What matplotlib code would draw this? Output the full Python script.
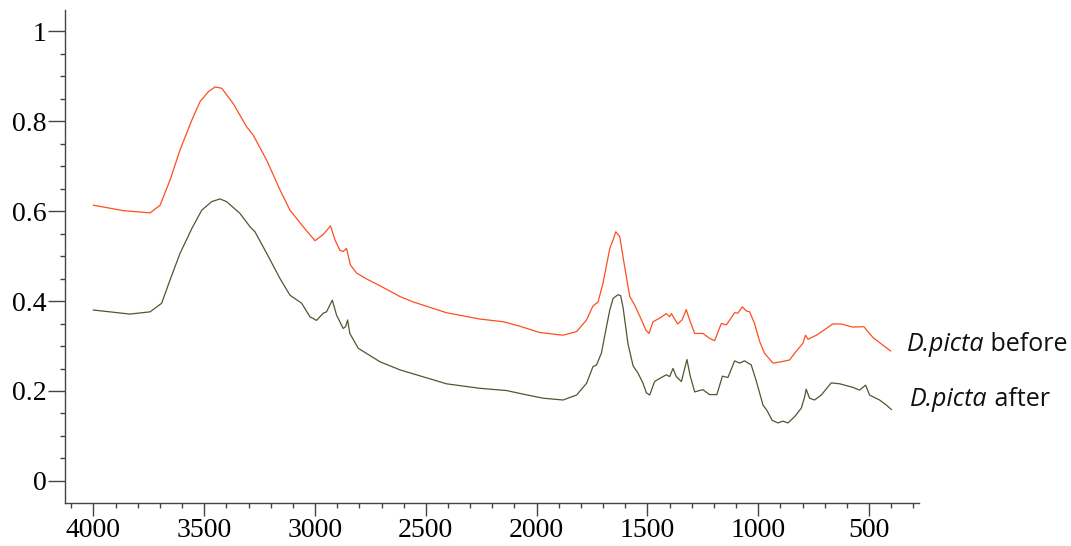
import numpy as np
import matplotlib
matplotlib.use('Agg')
import matplotlib.pyplot as plt
from matplotlib.ticker import MultipleLocator, FixedLocator

# FTIR spectra (wavenumber, cm-1 ; absorbance)
wn_before = [4000, 3865, 3744, 3699, 3654, 3609, 3556, 3519, 3482, 3451, 3421, 3369,
             3308, 3279, 3218, 3158, 3113, 3053, 3000, 2963, 2930, 2910, 2888, 2873,
             2858, 2840, 2812, 2767, 2707, 2617, 2557, 2407, 2257, 2151, 2076, 1986,
             1881, 1820, 1775, 1746, 1723, 1701, 1670, 1655, 1643, 1625, 1603, 1580,
             1558, 1527, 1508, 1493, 1475, 1445, 1415, 1400, 1392, 1364, 1344, 1325,
             1310, 1287, 1250, 1220, 1197, 1167, 1144, 1107, 1092, 1072, 1054, 1039,
             1017, 994, 972, 934, 896, 859, 836, 799, 787, 776, 738, 693, 664, 626,
             573, 524, 483, 438, 403]
abs_before = [0.613, 0.601, 0.596, 0.613, 0.669, 0.736, 0.802, 0.843, 0.865, 0.876, 0.873, 0.839,
              0.787, 0.769, 0.713, 0.647, 0.602, 0.565, 0.534, 0.548, 0.567, 0.536, 0.513, 0.510,
              0.517, 0.480, 0.462, 0.449, 0.434, 0.410, 0.398, 0.374, 0.360, 0.354, 0.344, 0.330,
              0.324, 0.332, 0.358, 0.389, 0.398, 0.439, 0.517, 0.536, 0.554, 0.543, 0.476, 0.410,
              0.391, 0.358, 0.336, 0.328, 0.354, 0.362, 0.372, 0.365, 0.372, 0.349, 0.358, 0.381,
              0.358, 0.328, 0.328, 0.317, 0.312, 0.350, 0.347, 0.374, 0.373, 0.387, 0.378, 0.376,
              0.350, 0.310, 0.284, 0.262, 0.265, 0.269, 0.284, 0.306, 0.324, 0.315, 0.324, 0.339, 0.349, 0.349,
              0.342, 0.343, 0.319, 0.302, 0.289]

wn_after = [4000, 3835, 3744, 3692, 3654, 3609, 3556, 3511, 3466, 3429, 3399, 3339,
            3293, 3271, 3218, 3158, 3113, 3060, 3023, 2993, 2963, 2948, 2922, 2903,
            2873, 2862, 2853, 2843, 2805, 2707, 2617, 2407, 2257, 2136, 2061, 1971,
            1881, 1820, 1775, 1746, 1730, 1708, 1685, 1670, 1655, 1633, 1621, 1610,
            1588, 1565, 1543, 1520, 1505, 1490, 1468, 1445, 1415, 1400, 1385, 1370,
            1347, 1322, 1308, 1287, 1250, 1220, 1187, 1162, 1137, 1107, 1084, 1062,
            1032, 1009, 979, 960, 938, 912, 889, 866, 836, 806, 791, 784, 769, 746,
            716, 671, 633, 573, 543, 516, 498, 453, 423, 400]
abs_after = [0.380, 0.371, 0.376, 0.395, 0.447, 0.506, 0.561, 0.602, 0.621, 0.627, 0.621, 0.595,
             0.565, 0.554, 0.506, 0.450, 0.413, 0.395, 0.365, 0.357, 0.373, 0.376, 0.402, 0.369,
             0.339, 0.343, 0.358, 0.328, 0.295, 0.265, 0.247, 0.216, 0.206, 0.201, 0.193, 0.184,
             0.180, 0.191, 0.217, 0.254, 0.258, 0.284, 0.343, 0.380, 0.406, 0.414, 0.412, 0.385,
             0.305, 0.256, 0.240, 0.217, 0.196, 0.191, 0.221, 0.228, 0.236, 0.232, 0.250, 0.232,
             0.221, 0.270, 0.235, 0.198, 0.203, 0.192, 0.192, 0.233, 0.230, 0.267, 0.262, 0.267,
             0.258, 0.222, 0.169, 0.156, 0.135, 0.129, 0.133, 0.129, 0.143, 0.162, 0.187, 0.204, 0.184, 0.180,
             0.191, 0.218, 0.216, 0.208, 0.202, 0.213, 0.191, 0.180, 0.169, 0.159]

y_ticks = [0, 0.2, 0.4, 0.6, 0.8, 1]
y_ticklabels = ['0', '0.2', '0.4', '0.6', '0.8', '1']
x_ticks = [4000, 3500, 3000, 2500, 2000, 1500, 1000, 500]
species = 'D.picta'
labels = ['before', 'after']

plt.rcParams['font.family'] = ['Liberation Serif', 'DejaVu Serif']
plt.rcParams['xtick.labelsize'] = 20
plt.rcParams['ytick.labelsize'] = 20

fig = plt.figure(figsize=(10.71, 5.46), dpi=100)
ax = fig.add_axes([65/1071, 43/546, (919-65)/1071, (503-10)/546])

ax.plot(wn_before, abs_before, '-', color='#ff4d1f', lw=0.9)
ax.plot(wn_after, abs_after, '-', color='#4b5a30', lw=0.9)

ax.set_xlim(4128, 275)
ax.set_ylim(-0.049, 1.047)

ax.spines['top'].set_visible(False)
ax.spines['right'].set_visible(False)
for s in ['left', 'bottom']:
    ax.spines[s].set_color('#444444')
    ax.spines[s].set_linewidth(1.0)

ax.xaxis.set_major_locator(FixedLocator(x_ticks))
ax.xaxis.set_minor_locator(MultipleLocator(100))
ax.yaxis.set_major_locator(FixedLocator(y_ticks))
ax.set_yticklabels(y_ticklabels)
ax.yaxis.set_minor_locator(MultipleLocator(0.05))

ax.tick_params(axis='x', which='major', length=9.5, width=1.0, color='#444444', pad=1.5)
ax.tick_params(axis='y', which='major', length=12, width=1.0, color='#444444', pad=1)
ax.tick_params(which='minor', length=3.6, width=1.0, color='#444444')

# curve labels: italic species name followed by upright word
renderer = fig.canvas.get_renderer()
for (px, py), word in zip([(907, 351), (910, 406)], labels):
    t = fig.text(px/1071, (546-py)/546, species, fontsize=18, style='italic',
                 family='Open Sans', va='baseline', ha='left', color='#111111')
    bb = t.get_window_extent(renderer)
    fig.text(bb.x1/1071, (546-py)/546, ' ' + word, fontsize=18,
             family='Open Sans', va='baseline', ha='left', color='#111111')

fig.savefig('out.png', dpi=100)
